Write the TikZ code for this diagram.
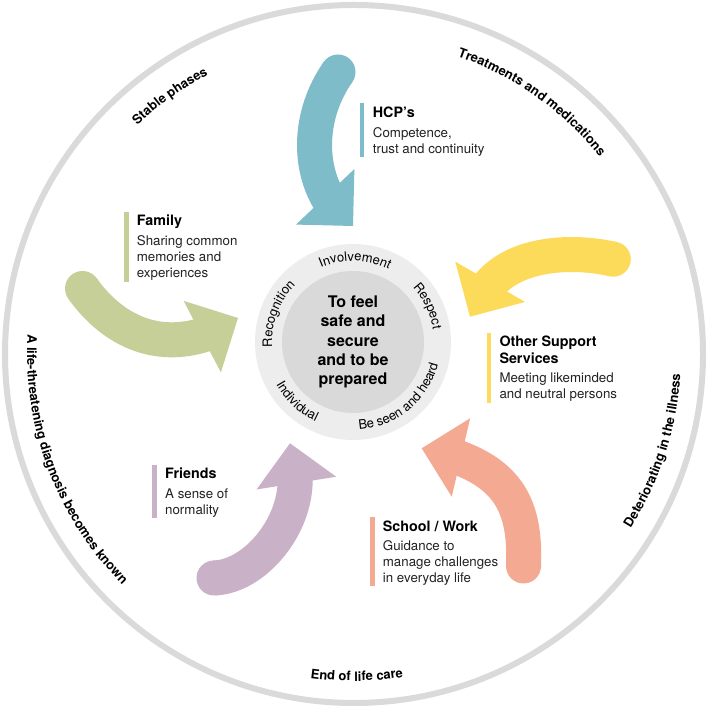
\documentclass[tikz,border=0pt]{standalone}
\usepackage{fontspec}
\setmainfont{TeX Gyre Heros}
\usetikzlibrary{calc,decorations.text}
\definecolor{hcpc}{HTML}{7DBCC8}
\definecolor{famc}{HTML}{C5CF97}
\definecolor{othc}{HTML}{FDDB5A}
\definecolor{schc}{HTML}{F4AA92}
\definecolor{frc}{HTML}{C9B2C8}
\definecolor{outc}{HTML}{DADADA}
\definecolor{ringc}{HTML}{EDEDED}
\definecolor{diskc}{HTML}{D9D9D9}
\definecolor{txtc}{HTML}{222222}
\newcommand{\myringfont}{\fontsize{13}{15}\selectfont}
\newcommand{\myouterfont}{\fontsize{13}{15}\selectfont\bfseries}
\newcommand{\flowarrow}[6]{%
  \fill[#1] (#2) circle[radius=17.5];
  \draw[#1, line width=35pt] (#2) .. controls #3 and #4 .. ($(#5)+(#6:-32)$);
  \fill[#1] (#5) -- ++(#6+135:57) -- ++(#6-90:80.6) -- cycle;
}
\tikzset{
  boxtitle/.style={anchor=base west, inner sep=0pt, text=black, font=\fontsize{14.3}{17}\selectfont\bfseries},
  boxdesc/.style={anchor=base west, inner sep=0pt, text=txtc, font=\fontsize{13.3}{16}\selectfont},
  ringlabel/.style={decorate, decoration={text along path, text align=center, text={|\myringfont|#1}}},
  outerlabel/.style={decorate, decoration={text along path, text align=center, text={|\myouterfont|#1}}}
}
\begin{document}
\begin{tikzpicture}[x=1pt,y=1pt]
\useasboundingbox (0,0) rectangle (708,708);
\fill[white] (0,0) rectangle (708,708);
\coordinate (O) at (354,354);
\coordinate (C) at (353,366);
% outer circle
\draw[outc, line width=6pt] (O) circle[radius=349];
% central rings
\fill[ringc] (C) circle[radius=98];
\fill[diskc] (C) circle[radius=71];
\node[align=center, inner sep=0pt, text=black, font=\fontsize{16}{19.3}\selectfont\bfseries] (core) at (C) {To feel\\safe and\\secure\\and to be\\prepared};
% ring labels
\path[ringlabel=Involvement] ($(C)+(148.5:81)$) arc[start angle=148.5, end angle=28.5, radius=81];
\path[ringlabel=Respect] ($(C)+(85.6:81)$) arc[start angle=85.6, end angle=-34.4, radius=81];
\path[ringlabel=Recognition] ($(C)+(219.5:81)$) arc[start angle=219.5, end angle=99.5, radius=81];
\path[ringlabel=Be seen and heard] ($(C)+(249.7:88)$) arc[start angle=249.7, end angle=369.7, radius=88];
\path[ringlabel=Individual] ($(C)+(167:88)$) arc[start angle=167, end angle=287, radius=88];
% outer labels
\path[outerlabel=Stable phases] ($(O)+(185.5:315)$) arc[start angle=185.5, end angle=65.5, radius=315];
\path[outerlabel=Treatments and medications] ($(O)+(114.8:315)$) arc[start angle=114.8, end angle=-5.2, radius=315];
\path[outerlabel=Deteriorating in the illness] ($(O)+(-77.9:327)$) arc[start angle=-77.9, end angle=42.1, radius=327];
\path[outerlabel=End of life care] ($(O)+(210.5:327)$) arc[start angle=210.5, end angle=330.5, radius=327];
\path[outerlabel=A life-threatening diagnosis becomes known] ($(O)+(140.7:327)$) arc[start angle=140.7, end angle=260.7, radius=327];
% arrows
\coordinate (hcpTail) at (338,636);   \coordinate (hcpTip) at (353,482);
\coordinate (famTail) at (82.5,419.5); \coordinate (famTip) at (238,390);
\coordinate (othTail) at (613.3,448.8); \coordinate (othTip) at (470,391.3);
\coordinate (schTail) at (523.5,142); \coordinate (schTip) at (421.7,259.7);
\coordinate (frTail) at (214,130);    \coordinate (frTip) at (290,264.7);
\flowarrow{hcpc}{hcpTail}{(308,593)}{(308,540)}{hcpTip}{-46.4}
\flowarrow{famc}{famTail}{(114.4,375)}{(160,357)}{famTip}{27.5}
\flowarrow{othc}{othTail}{(574.3,457.8)}{(513.2,456.7)}{othTip}{240}
\flowarrow{schc}{schTail}{(526,202)}{(507.8,233.5)}{schTip}{166.8}
\flowarrow{frc}{frTail}{(254,131)}{(298,182)}{frTip}{99.1}
% HCP box
\fill[hcpc] (359.5,551) rectangle (364,604.7);
\node[boxtitle] (hcpT) at (372.7,590.3) {HCP’s};
\node[boxdesc] (hcpD1) at (372.7,570.5) {Competence,};
\node[boxdesc] (hcpD2) at (372.7,554.5) {trust and continuity};
% Family box
\fill[famc] (124,426.3) rectangle (128.5,496.3);
\node[boxtitle] (famT) at (136.7,482) {Family};
\node[boxdesc] (famD1) at (136.7,462) {Sharing common};
\node[boxdesc] (famD2) at (136.7,446) {memories and};
\node[boxdesc] (famD3) at (136.7,430) {experiences};
% Other support box
\fill[othc] (486.7,304.7) rectangle (491,375.3);
\node[boxtitle] (othT1) at (499.3,361.5) {Other Support};
\node[boxtitle] (othT2) at (499.3,344.5) {Services};
\node[boxdesc] (othD1) at (499.3,325) {Meeting likeminded};
\node[boxdesc] (othD2) at (499.3,309) {and neutral persons};
% Friends box
\fill[frc] (152.3,189.5) rectangle (156.7,243);
\node[boxtitle] (frT) at (165,229) {Friends};
\node[boxdesc] (frD1) at (165,209) {A sense of};
\node[boxdesc] (frD2) at (165,193) {normality};
% School box
\fill[schc] (370,122.3) rectangle (374.5,190.7);
\node[boxtitle] (schT) at (382.7,176.5) {School / Work};
\node[boxdesc] (schD1) at (382.7,157) {Guidance to};
\node[boxdesc] (schD2) at (382.7,141) {manage challenges};
\node[boxdesc] (schD3) at (382.7,125.5) {in everyday life};
\end{tikzpicture}
\end{document}
